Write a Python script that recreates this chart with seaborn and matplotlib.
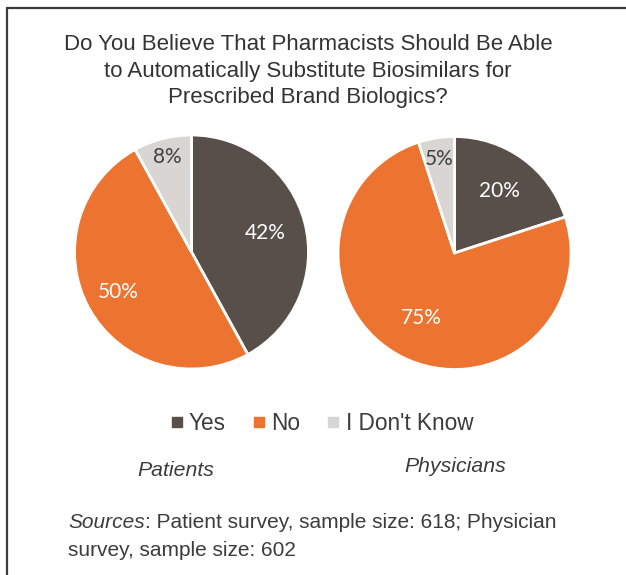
import matplotlib
matplotlib.use("Agg")
import matplotlib.pyplot as plt
import seaborn as sns
import numpy as np
from matplotlib.lines import Line2D

# ---- data ----
categories = ["Yes", "No", "I Don't Know"]
patients = [42, 50, 8]
physicians = [20, 75, 5]
group_names = ["Patients", "Physicians"]
title = ("Do You Believe That Pharmacists Should Be Able\n"
         "to Automatically Substitute Biosimilars for\n"
         "Prescribed Brand Biologics?")
source_label = "Sources"
source_line1 = ": Patient survey, sample size: 618; Physician"
source_line2 = "survey, sample size: 602"

# ---- style ----
sns.set_theme(style="white")
plt.rcParams["font.family"] = ["Liberation Sans", "DejaVu Sans"]
colors = sns.color_palette(["#594F4A", "#EC7430", "#D9D5D2"])
label_colors = ["white", "white", "#404040"]
text_col = "#3c3c3c"

W, H = 626, 575
fig = plt.figure(figsize=(W / 100, H / 100), dpi=100)

def add_pie_axes(cx, cy, r):
    return fig.add_axes([(cx - r) / W, (H - cy - r) / H, 2 * r / W, 2 * r / H])

def draw_pie(ax, values, dist):
    wedges, _ = ax.pie(values, colors=colors, startangle=90, counterclock=False,
                       wedgeprops=dict(edgecolor="white", linewidth=2))
    for w, v, c, d in zip(wedges, values, label_colors, dist):
        ang = np.deg2rad((w.theta1 + w.theta2) / 2)
        ax.text(d * np.cos(ang), d * np.sin(ang), f"{v}%", ha="center", va="center",
                color=c, fontsize=15, family=["Lato", "DejaVu Sans"])
    ax.set_xlim(-1, 1)
    ax.set_ylim(-1, 1)
    ax.set_aspect("equal")
    ax.axis("off")
    return wedges

ax1 = add_pie_axes(191.5, 252, 117)
draw_pie(ax1, patients, [0.65, 0.71, 0.84])
ax2 = add_pie_axes(454.5, 253, 116.5)
draw_pie(ax2, physicians, [0.66, 0.63, 0.82])

# overlay for texts and frame
ov = fig.add_axes([0, 0, 1, 1])
ov.set_xlim(0, W)
ov.set_ylim(H, 0)
ov.axis("off")

ov.plot([6, W], [8, 8], color="#3a3a3a", lw=1.6, solid_capstyle="butt")
ov.plot([7, 7], [8, H], color="#3a3a3a", lw=1.6, solid_capstyle="butt")

ov.text(308, 71, title, ha="center", va="center", fontsize=16, color="#333333",
        linespacing=1.33)

handles = [Line2D([], [], linestyle="none", marker="s", markersize=6.5,
                  markerfacecolor=c, markeredgecolor=c) for c in colors]
fig.legend(handles, categories, loc="center", bbox_to_anchor=(322 / W, 1 - 423 / H),
           ncol=3, frameon=False, fontsize=16.3, handlelength=0.5, handletextpad=0.3,
           columnspacing=1.2, labelcolor=text_col)

ov.text(176, 470, group_names[0], ha="center", va="center", fontsize=15.3,
        style="italic", color=text_col)
ov.text(455, 467, group_names[1], ha="center", va="center", fontsize=15.3,
        style="italic", color=text_col)

t1 = ov.text(68, 523, source_label, ha="left", va="center", fontsize=15,
             style="italic", color=text_col)
ov.annotate(source_line1, xy=(1, 0.5), xycoords=t1, ha="left", va="center",
            fontsize=15, color=text_col)
ov.text(68, 550, source_line2, ha="left", va="center", fontsize=15, color=text_col)

fig.savefig("out.png", dpi=100)
